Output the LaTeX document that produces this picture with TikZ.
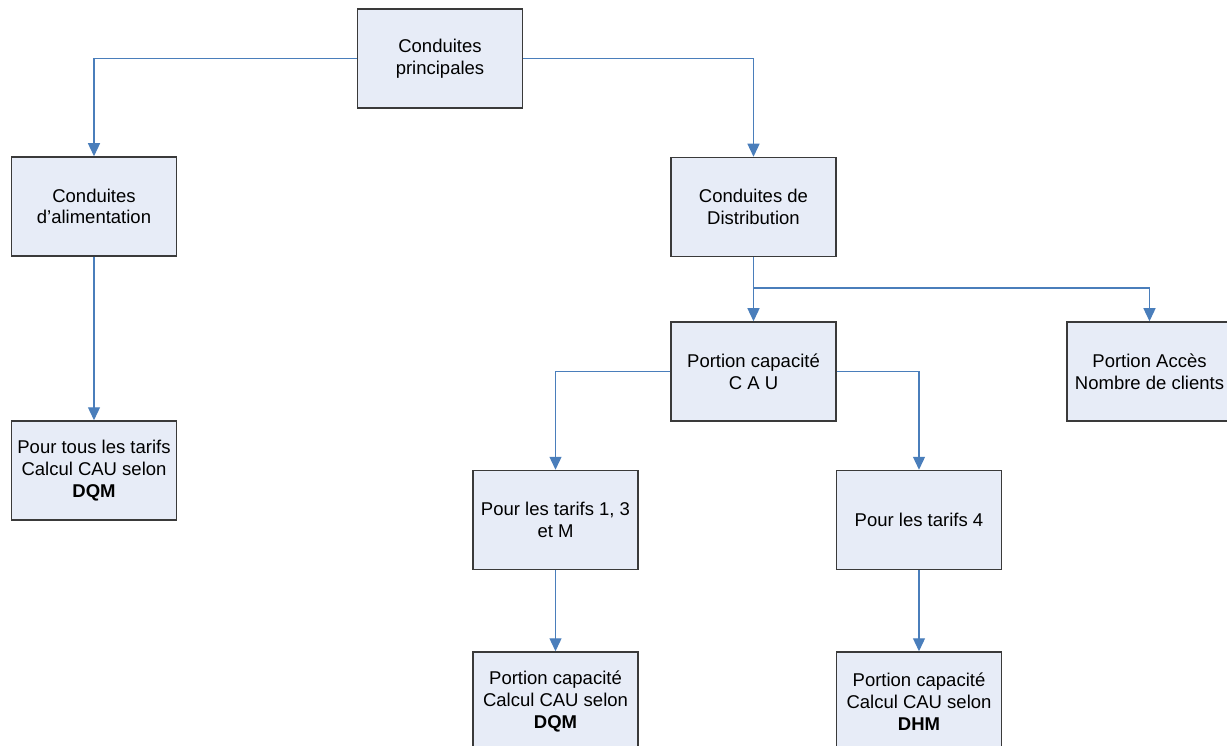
\documentclass[tikz,border=0pt]{standalone}
\usepackage{fontspec}
\setmainfont{Liberation Sans}
\usetikzlibrary{arrows.meta, positioning, calc}
\definecolor{cline}{HTML}{4A7EBB}
\definecolor{cfill}{HTML}{E7ECF7}
\definecolor{cedge}{HTML}{3A3A3A}
\tikzset{
  every picture/.style={font=\fontsize{18.5}{21.7}\selectfont},
  box/.style={draw=cedge, fill=cfill, line width=1.5pt, align=center, inner sep=0pt, minimum width=165pt, minimum height=99pt},
  arrow/.style={-{Triangle[length=13pt, width=12pt]}, draw=cline, line width=1.3pt},
}
\begin{document}
\begin{tikzpicture}[x=1pt, y=-1pt]
  \useasboundingbox (0,0) rectangle (1227,746);
  \clip (0,0) rectangle (1227,746);
  \node[box] (princ) at (440,58.5) {Conduites\\principales};
  \node[box] (alim) at (94,206.5) {Conduites\\d’alimentation};
  \node[box] (distr) at (753.5,207) {Conduites de\\Distribution};
  \node[box] (tous) at (94,470.5) {Pour tous les tarifs\\Calcul CAU selon\\\textbf{DQM}};
  \node[box] (cau) at (753.5,371.5) {Portion capacité\\C A U};
  \node[box] (acces) at (1149.5,371.5) {Portion Accès\\Nombre de clients};
  \node[box] (tarifs) at (555.5,520) {Pour les tarifs 1, 3\\et M};
  \node[box] (tarifq) at (919,520) {Pour les tarifs 4};
  \node[box] (dqm) at (555.5,701.5) {Portion capacité\\Calcul CAU selon\\\textbf{DQM}};
  \node[box] (dhm) at (919,701.5) {Portion capacité\\Calcul CAU selon\\\textbf{DHM}};
  \coordinate (split) at (distr.south |- 0,288);
  \draw[arrow] (princ.west) -| (alim.north);
  \draw[arrow] (princ.east) -| (distr.north);
  \draw[arrow] (alim) -- (tous);
  \draw[arrow] (distr) -- (cau);
  \draw[arrow] (split) -| (acces.north);
  \draw[arrow] (cau.west) -| (tarifs.north);
  \draw[arrow] (cau.east) -| (tarifq.north);
  \draw[arrow] (tarifs) -- (dqm);
  \draw[arrow] (tarifq) -- (dhm);
\end{tikzpicture}
\end{document}
